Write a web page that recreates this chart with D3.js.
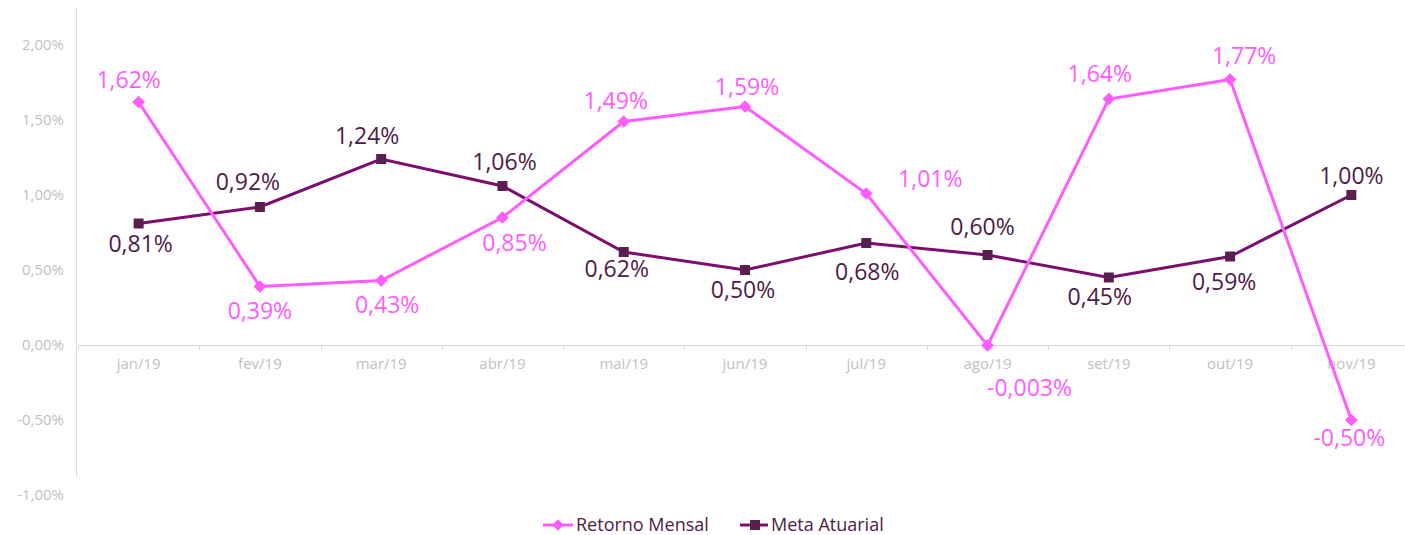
<!DOCTYPE html>
<html>
<head>
<meta charset="utf-8">
<script src="https://cdn.jsdelivr.net/npm/d3@7"></script>
<style>
  body { margin: 0; background: #fff; }
  svg { font-family: "Open Sans", sans-serif; }
</style>
</head>
<body>
<div id="chart"></div>
<script>
var months = ["jan/19","fev/19","mar/19","abr/19","mai/19","jun/19","jul/19","ago/19","set/19","out/19","nov/19"]
var retorno = [1.62, 0.39, 0.43, 0.85, 1.49, 1.59, 1.01, -0.003, 1.64, 1.77, -0.50]
var meta = [0.81, 0.92, 1.24, 1.06, 0.62, 0.50, 0.68, 0.60, 0.45, 0.59, 1.00]
var retornoText = ["1,62%","0,39%","0,43%","0,85%","1,49%","1,59%","1,01%","-0,003%","1,64%","1,77%","-0,50%"]
var metaText = ["0,81%","0,92%","1,24%","1,06%","0,62%","0,50%","0,68%","0,60%","0,45%","0,59%","1,00%"]
var yTicks = [-1, -0.5, 0, 0.5, 1, 1.5, 2]

// label placement (dx, dy from the point)
var retornoPos = [[-10,-22],[0,24],[6,24],[12,25],[-8,-21],[2,-20],[64,-15],[42,43],[-9,-25],[14,-24],[-2,18]]
var metaPos = [[2,20],[-12,-25],[-14,-23],[2,-24],[-7,17],[-2,20],[1,29],[-5,-28],[-9,19],[-6,25],[0,-19]]

var pink = "#ff5cff", purple = "#7a0f6e", purpleDark = "#5a1f4f", labelDark = "#4e1b47"

var W = 1405, H = 535
var svg = d3.select("#chart").append("svg").attr("width", W).attr("height", H)

var x = d3.scaleBand().domain(months).range([78, 1412])
var y = d3.scaleLinear().domain([-1, 2]).range([495, 45])
var cx = function(i) { return x(months[i]) + x.bandwidth() / 2 }

// y axis line
svg.append("line").attr("x1", 76.5).attr("x2", 76.5).attr("y1", 8).attr("y2", 477)
  .attr("stroke", "#d9d9d9").attr("stroke-width", 1)

svg.selectAll(".ytick").data(yTicks).enter().append("text")
  .attr("x", 64).attr("y", function(d) { return y(d) + 5 })
  .attr("text-anchor", "end").attr("fill", "#bfbfbf").style("font-size", "15px")
  .text(function(d) { return d3.format(".2f")(d).replace(".", ",").replace("−", "-") + "%" })

// x axis at zero
var xAxis = svg.append("g").attr("transform", "translate(0," + y(0) + ")")
xAxis.append("line").attr("x1", 78).attr("x2", W).attr("y1", 0.5).attr("y2", 0.5)
  .attr("stroke", "#d9d9d9")
xAxis.selectAll(".tk").data(months).enter().append("line")
  .attr("x1", function(d) { return Math.round(x(d)) + 0.5 })
  .attr("x2", function(d) { return Math.round(x(d)) + 0.5 })
  .attr("y1", 0).attr("y2", 5).attr("stroke", "#d9d9d9")
xAxis.selectAll(".lb").data(months).enter().append("text")
  .attr("x", function(d) { return x(d) + x.bandwidth() / 2 })
  .attr("y", 24).attr("text-anchor", "middle").attr("fill", "#bfbfbf")
  .style("font-size", "15px").text(function(d) { return d })

var line = d3.line().x(function(d, i) { return cx(i) }).y(function(d) { return y(d) })

// Meta Atuarial
svg.append("path").datum(meta).attr("fill", "none").attr("stroke", purple)
  .attr("stroke-width", 3).attr("d", line)
svg.selectAll(".msq").data(meta).enter().append("rect")
  .attr("x", function(d, i) { return cx(i) - 5 }).attr("y", function(d) { return y(d) - 5 })
  .attr("width", 10).attr("height", 10).attr("fill", purpleDark)

// Retorno Mensal
svg.append("path").datum(retorno).attr("fill", "none").attr("stroke", pink)
  .attr("stroke-width", 3).attr("d", line)
svg.selectAll(".rdm").data(retorno).enter().append("rect")
  .attr("x", -4.5).attr("y", -4.5).attr("width", 9).attr("height", 9)
  .attr("transform", function(d, i) { return "translate(" + cx(i) + "," + y(d) + ") rotate(45)" })
  .attr("fill", pink)

// labels
svg.selectAll(".mlab").data(meta).enter().append("text")
  .attr("x", function(d, i) { return cx(i) + metaPos[i][0] })
  .attr("y", function(d, i) { return y(d) + metaPos[i][1] + 8 })
  .attr("text-anchor", "middle").attr("fill", labelDark).style("font-size", "23px")
  .text(function(d, i) { return metaText[i] })
svg.selectAll(".rlab").data(retorno).enter().append("text")
  .attr("x", function(d, i) { return cx(i) + retornoPos[i][0] })
  .attr("y", function(d, i) { return y(d) + retornoPos[i][1] + 8 })
  .attr("text-anchor", "middle").attr("fill", pink).style("font-size", "23px")
  .text(function(d, i) { return retornoText[i] })

// legend
var leg = svg.append("g").attr("transform", "translate(0,525)")
leg.append("line").attr("x1", 543).attr("x2", 573).attr("y1", 0).attr("y2", 0)
  .attr("stroke", pink).attr("stroke-width", 3)
leg.append("rect").attr("x", -4).attr("y", -4).attr("width", 8).attr("height", 8)
  .attr("transform", "translate(558,0) rotate(45)").attr("fill", pink)
leg.append("text").attr("x", 576).attr("y", 6).attr("fill", labelDark)
  .style("font-size", "18px").text("Retorno Mensal")
leg.append("line").attr("x1", 740).attr("x2", 768).attr("y1", 0).attr("y2", 0)
  .attr("stroke", purple).attr("stroke-width", 3)
leg.append("rect").attr("x", 750).attr("y", -5).attr("width", 10).attr("height", 10)
  .attr("fill", purpleDark)
leg.append("text").attr("x", 771).attr("y", 6).attr("fill", labelDark)
  .style("font-size", "18px").text("Meta Atuarial")
</script>
</body>
</html>
